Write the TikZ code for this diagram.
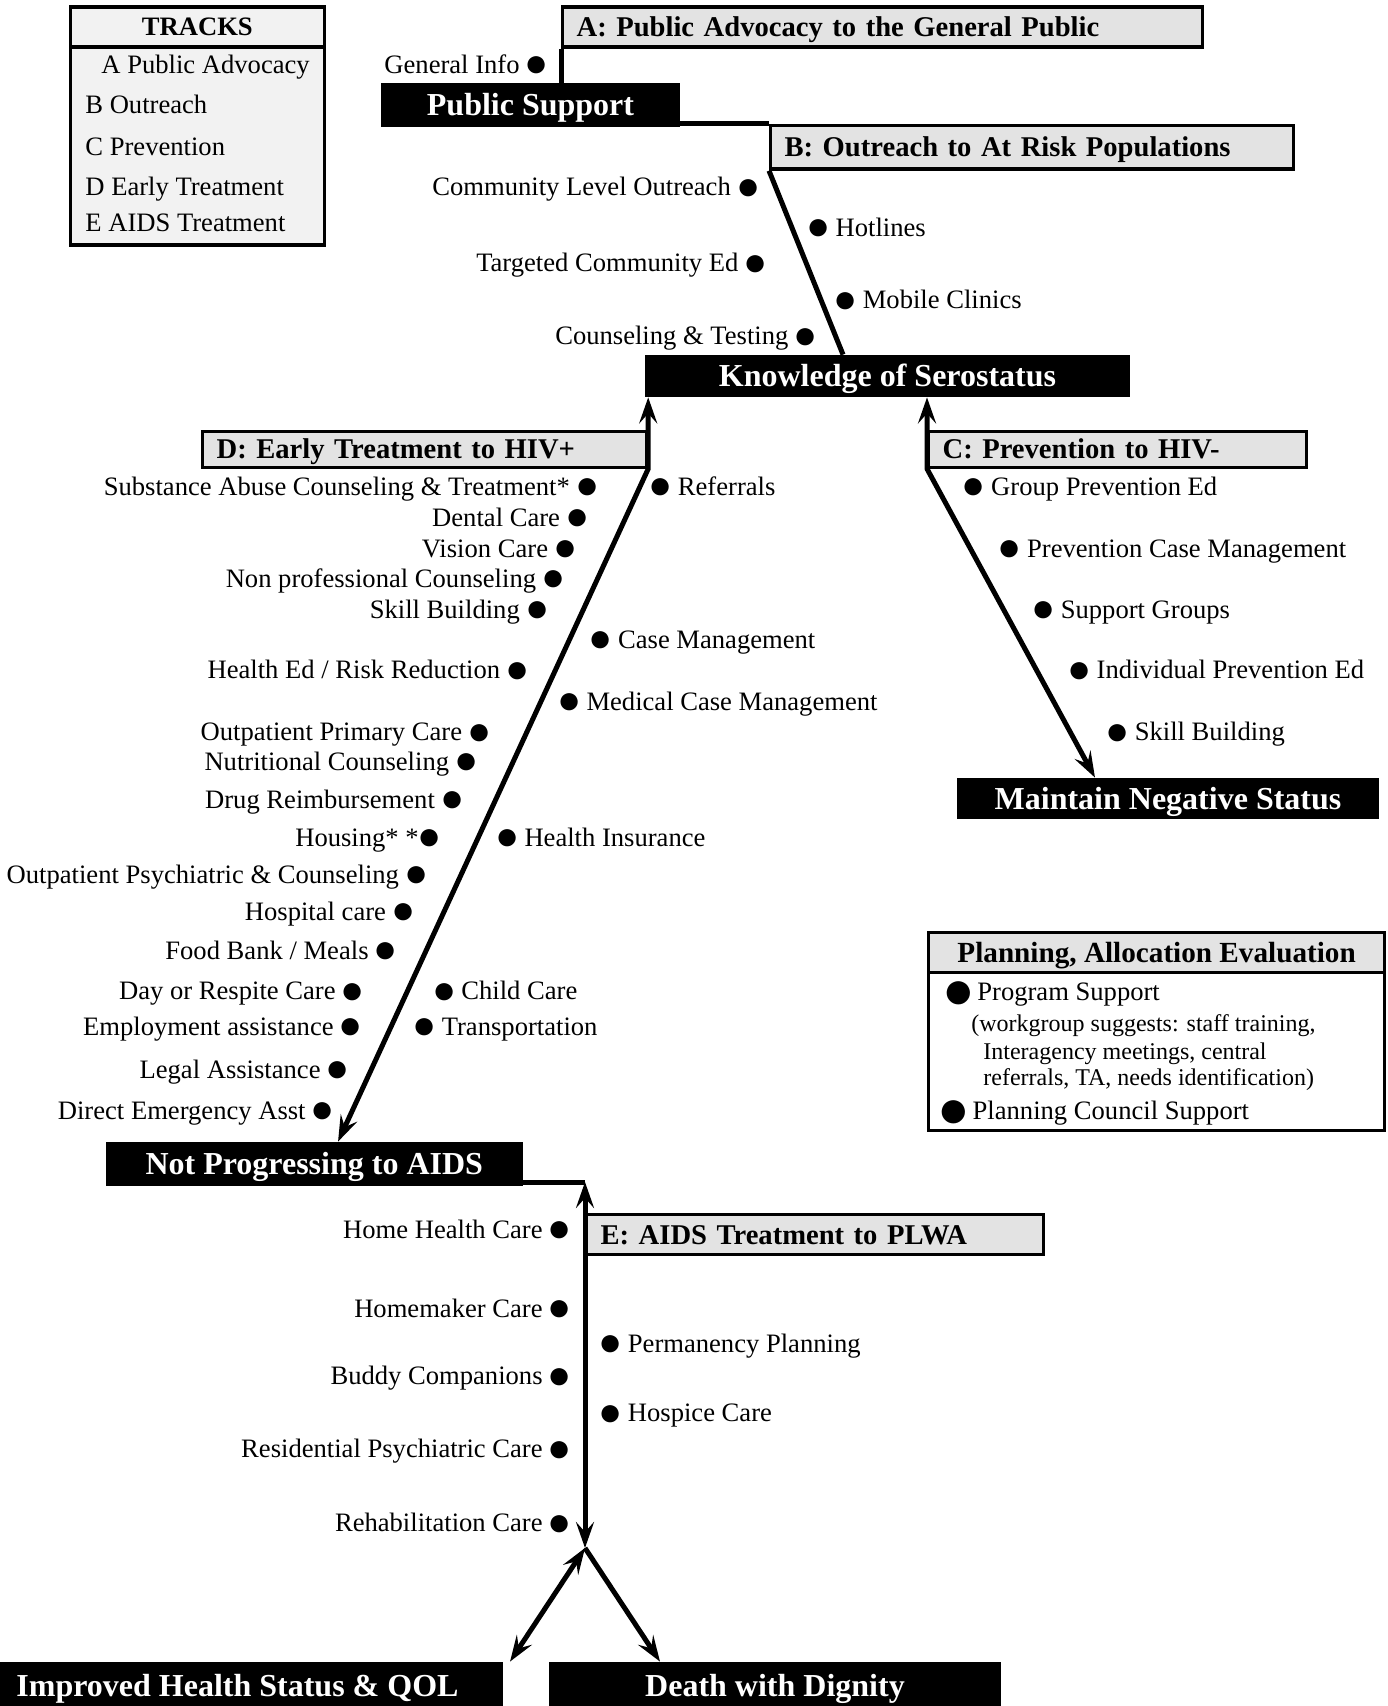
\documentclass[tikz,border=0pt]{standalone}
\usepackage{fontspec}
\setmainfont{Liberation Serif}
\usetikzlibrary{arrows.meta}
\definecolor{headgray}{gray}{0.89}
\definecolor{keygray}{gray}{0.95}
% bullets of the service lists
\newcommand{\dotmark}{\kern-0.7pt{\fontsize{20}{20}\selectfont\raisebox{-1.6pt}{●}}\kern-0.7pt}
\newcommand{\bigdotmark}{{\fontsize{27}{27}\selectfont\raisebox{-3.7pt}{●}}\kern-2pt}

\begin{document}
\begin{tikzpicture}[x=0.5pt, y=-0.5pt,
    >={Stealth[length=13pt, width=9pt, inset=5pt]},
    flow/.style={line width=2.5pt, line join=round},
    outcome/.style={fill=black, text=white, inner sep=0pt, text height=10.6pt, text depth=0pt,
      font=\fontsize{16}{18}\selectfont\bfseries},
    trackhead/.style={draw, line width=1.6pt, fill=headgray, anchor=north west, align=left,
      inner xsep=7pt, inner ysep=0pt, text height=9.5pt, text depth=0pt,
      font=\fontsize{14.3}{17}\selectfont\bfseries},
    lefttext/.style={anchor=east, inner sep=0pt, text height=8.8pt, text depth=0pt,
      font=\fontsize{13.3}{16}\selectfont},
    righttext/.style={lefttext, anchor=west},
    notetext/.style={righttext, text height=7.9pt, font=\fontsize{12}{12}\selectfont}
  ]
    \useasboundingbox (0,0) rectangle (1387,1706);

    % Legend of the tracks
    \node[draw, line width=1.6pt, fill=keygray, minimum width=127.25pt, minimum height=119pt,
      anchor=north west, inner sep=0pt] (tracks) at (68.5,5.5) {};
    \node[draw, line width=1.6pt, fill=keygray, minimum width=127.25pt, minimum height=20pt,
      anchor=north west, inner sep=0pt, text height=8.8pt, text depth=0pt,
      font=\fontsize{13.3}{16}\selectfont\bfseries] (trackstitle) at (tracks.north west) {TRACKS};
    \node[righttext] (keyA) at (101,65) {A Public Advocacy};
    \node[righttext] (keyB) at (85,104.4) {B Outreach};
    \node[righttext] (keyC) at (85,146.9) {C Prevention};
    \node[righttext] (keyD) at (85,187.1) {D Early Treatment};
    \node[righttext] (keyE) at (85,223) {E AIDS Treatment};

    % Track headers
    \node[trackhead, text width=306pt, minimum height=20pt] (trackA) at (561,5.5)
      {A: Public Advocacy to the General Public};
    \node[trackhead, text width=247.5pt, minimum height=21.75pt] (trackB) at (769,124)
      {B: Outreach to At Risk Populations};
    \node[trackhead, text width=175pt, minimum height=17.8pt] (trackC) at (927,430)
      {C: Prevention to HIV-};
    \node[trackhead, text width=208pt, minimum height=17.8pt] (trackD) at (201,430)
      {D: Early Treatment to HIV+};
    \node[trackhead, text width=214.5pt, minimum height=20pt] (trackE) at (585,1213)
      {E: AIDS Treatment to PLWA};

    % Outcomes
    \node[outcome, minimum width=149.5pt, minimum height=22pt] (pubsup) at (530.5,105) {Public Support};
    \node[outcome, minimum width=242.5pt, minimum height=21pt] (know) at (887.5,376) {Knowledge of Serostatus};
    \node[outcome, minimum width=211pt, minimum height=20.5pt] (maintain) at (1168,798.5) {Maintain Negative Status};
    \node[outcome, minimum width=208.75pt, minimum height=22pt] (notprog) at (314.25,1164) {Not Progressing to AIDS};
    \node[outcome, minimum width=265.5pt, minimum height=24pt] (improved) at (237.5,1686) {Improved Health Status \& QOL};
    \node[outcome, minimum width=226pt, minimum height=24pt] (death) at (775,1686) {Death with Dignity};

    % Track A services
    \node[lefttext] (geninfo) at (548,65) {General Info \dotmark};

    % Track B services
    \node[lefttext] (commout) at (759.2,187.1) {Community Level Outreach \dotmark};
    \node[righttext] (hotlines) at (807.2,227.3) {\dotmark\ Hotlines};
    \node[lefttext] (targed) at (766.8,263.2) {Targeted Community Ed \dotmark};
    \node[righttext] (mobile) at (834.4,300.2) {\dotmark\ Mobile Clinics};
    \node[lefttext] (ctest) at (816.8,336.1) {Counseling \& Testing \dotmark};

    % Track D services, left of the line
    \node[lefttext] (subst) at (598.2,486.2) {Substance Abuse Counseling \& Treatment* \dotmark};
    \node[lefttext] (dental) at (588.4,517.8) {Dental Care \dotmark};
    \node[lefttext] (vision) at (576.5,548.3) {Vision Care \dotmark};
    \node[lefttext] (nonprof) at (564.5,578.7) {Non professional Counseling \dotmark};
    \node[lefttext] (skillD) at (548.2,609.2) {Skill Building \dotmark};
    \node[lefttext] (healthed) at (528.6,670.1) {Health Ed / Risk Reduction \dotmark};
    \node[lefttext] (primary) at (490.5,732.1) {Outpatient Primary Care \dotmark};
    \node[lefttext] (nutri) at (477.5,761.5) {Nutritional Counseling \dotmark};
    \node[lefttext] (drug) at (463.3,799.5) {Drug Reimbursement \dotmark};
    \node[lefttext] (housing) at (440.5,837.6) {Housing* *\dotmark};
    \node[lefttext] (psych) at (427.4,874.6) {Outpatient Psychiatric \& Counseling \dotmark};
    \node[lefttext] (hospital) at (414.4,911.6) {Hospital care \dotmark};
    \node[lefttext] (food) at (397,950.7) {Food Bank / Meals \dotmark};
    \node[lefttext] (respite) at (364,991) {Day or Respite Care \dotmark};
    \node[lefttext] (employ) at (362,1026.9) {Employment assistance \dotmark};
    \node[lefttext] (legal) at (349,1069.3) {Legal Assistance \dotmark};
    \node[lefttext] (emerg) at (334,1110.6) {Direct Emergency Asst \dotmark};

    % Track D services, right of the line
    \node[righttext] (referrals) at (649.5,486.2) {\dotmark\ Referrals};
    \node[righttext] (casemgmt) at (589.7,639.6) {\dotmark\ Case Management};
    \node[righttext] (medcase) at (558.1,701.6) {\dotmark\ Medical Case Management};
    \node[righttext] (insur) at (496.1,837.6) {\dotmark\ Health Insurance};
    \node[righttext] (child) at (433,991) {\dotmark\ Child Care};
    \node[righttext] (transp) at (413.4,1026.9) {\dotmark\ Transportation};

    % Track C services
    \node[righttext] (groupprev) at (962.8,486.2) {\dotmark\ Group Prevention Ed};
    \node[righttext] (prevcase) at (998.7,548.3) {\dotmark\ Prevention Case Management};
    \node[righttext] (support) at (1032.4,609.2) {\dotmark\ Support Groups};
    \node[righttext] (indprev) at (1068.3,670.1) {\dotmark\ Individual Prevention Ed};
    \node[righttext] (skillC) at (1106.4,732.1) {\dotmark\ Skill Building};

    % Track E services
    \node[lefttext] (homehealth) at (571,1229.2) {Home Health Care \dotmark};
    \node[lefttext] (homemaker) at (571,1308.6) {Homemaker Care \dotmark};
    \node[lefttext] (buddy) at (571,1376) {Buddy Companions \dotmark};
    \node[lefttext] (respsych) at (571,1449) {Residential Psychiatric Care \dotmark};
    \node[lefttext] (rehab) at (571,1523) {Rehabilitation Care \dotmark};
    \node[righttext] (perm) at (599.5,1343.4) {\dotmark\ Permanency Planning};
    \node[righttext] (hospice) at (599.5,1413) {\dotmark\ Hospice Care};

    % Planning box
    \node[draw, line width=1.6pt, fill=white, minimum width=228pt, minimum height=99pt,
      anchor=north west, inner sep=0pt] (plan) at (927,931) {};
    \node[draw, line width=1.6pt, fill=headgray, minimum width=228pt, minimum height=19.85pt,
      anchor=north west, inner sep=0pt, text height=9.7pt, text depth=0pt,
      font=\fontsize{14.6}{17}\selectfont\bfseries] (plantitle) at (plan.north west)
      {Planning, Allocation Evaluation};
    \node[righttext] (progsup) at (941.7,992) {\bigdotmark\ Program Support};
    \node[notetext] (note1) at (971,1024) {(workgroup suggests: staff training,};
    \node[notetext] (note2) at (983,1052) {Interagency meetings, central};
    \node[notetext] (note3) at (983,1078) {referrals, TA, needs identification)};
    \node[righttext] (council) at (937,1111) {\bigdotmark\ Planning Council Support};

    % Connectors between tracks and outcomes
    \draw[flow] (trackA.south west) -- (trackA.south west |- pubsup.north);
    \draw[flow] (pubsup.east |- trackB.north west) -- (trackB.north west);
    \draw[flow] (trackB.south west) -- ([xshift=-22.25pt]know.north);
    \draw[flow, <->] (trackD.south east |- know.south) -- (trackD.south east)
      -- ([xshift=11.9pt]notprog.north);
    \draw[flow, <->] (trackC.south west |- know.south) -- (trackC.south west)
      -- ([xshift=-36.5pt]maintain.north);

    % Track E and the two end points
    \coordinate (ecorner) at (585,1182);
    \coordinate (junction) at (585,1548);
    \draw[flow] (notprog.east |- ecorner) -- (ecorner);
    \draw[flow, <->] (ecorner) -- (junction);
    \draw[flow, <->] (junction) -- ([xshift=136.25pt]improved.north);
    \draw[flow, ->] (junction) -- ([xshift=-57.5pt]death.north);

\end{tikzpicture}
\end{document}
